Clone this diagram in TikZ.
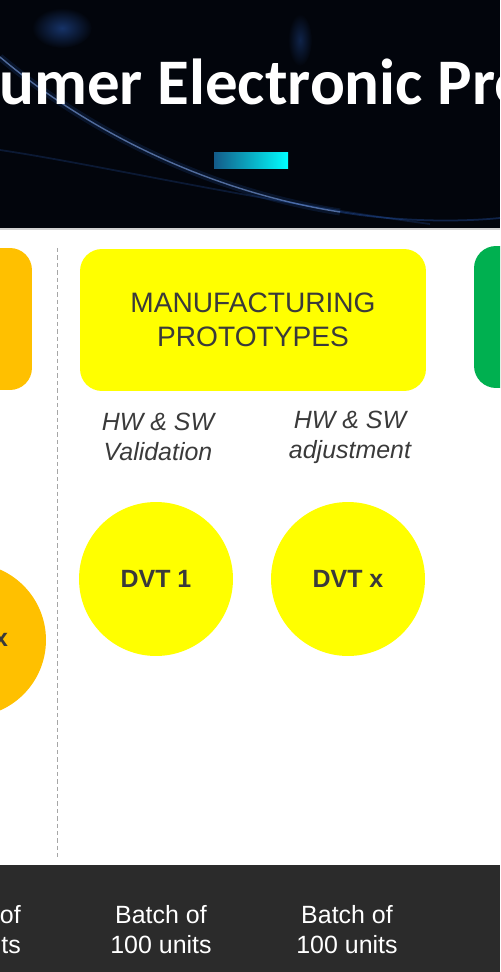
\documentclass[tikz,border=0pt]{standalone}
\usepackage{fontspec}
\setmainfont{Liberation Sans}
\newfontfamily\titlefont{Carlito}
\definecolor{banner}{HTML}{02050C}
\definecolor{streak}{HTML}{2F6BD8}
\definecolor{evtorange}{HTML}{FFC000}
\definecolor{dvtyellow}{HTML}{FFFF00}
\definecolor{pvtgreen}{HTML}{00B050}
\definecolor{textgray}{HTML}{3A3A3A}
\definecolor{barbg}{HTML}{2B2B2B}
\begin{document}
\begin{tikzpicture}[x=0.02cm,y=-0.02cm,
  phasebox/.style={rounded corners=0.44cm, minimum width=6.92cm, minimum height=2.84cm,
    inner sep=0pt, align=center, text=textgray, font=\fontsize{16}{19.3}\selectfont},
  stagedot/.style={circle, minimum size=3.08cm, inner sep=0pt, text=textgray,
    font=\fontsize{14.2}{17}\selectfont\bfseries},
  tasklabel/.style={align=center, text=textgray, font=\fontsize{14.2}{17}\selectfont\itshape},
  batchlabel/.style={align=center, text=white, font=\fontsize{14.2}{17}\selectfont}]
\useasboundingbox (0,0) rectangle (500,972);
\clip (0,0) rectangle (500,972);
% banner
\fill[banner] (0,0) rectangle (500,228);
\shade[inner color=streak!45!banner, outer color=banner] (62,28) ellipse (30 and 20);
\shade[inner color=streak!30!banner, outer color=banner] (300,40) ellipse (12 and 26);
\draw[streak, opacity=.15, line width=4pt] (0,57) .. controls (80,125) and (200,190) .. (340,212);
\draw[streak!60!white, opacity=.6, line width=.8pt] (0,57) .. controls (80,125) and (200,190) .. (340,212);
\draw[streak, opacity=.3, line width=1pt] (340,212) .. controls (400,222) and (460,222) .. (500,218);
\draw[streak, opacity=.2, line width=1pt] (0,150) .. controls (100,165) and (250,200) .. (430,224);
\node[text=white, anchor=base west, inner sep=0pt, font=\titlefont\bfseries\fontsize{37}{43}\selectfont]
  (title) at (-1,105) {umer Electronic Pro};
\shade[left color=streak!70!cyan!60!black, right color=cyan] (214,153) rectangle (288,169);
\draw[gray!35, line width=1.2pt] (0,229) -- (500,229);
% phases
\node[phasebox, fill=evtorange] (evt) at (-141,319) {};
\node[phasebox, fill=dvtyellow] (dvt) at (253,320) {MANUFACTURING\\PROTOTYPES};
\node[phasebox, fill=pvtgreen] (pvt) at (647,317) {};
\coordinate (sep top) at (57,248);
\coordinate (sep bot) at (57,857);
\draw[gray!70, dash pattern=on 2.5pt off 1.7pt] (sep top) -- (sep bot);
\node[tasklabel] (valid) at (158,437) {HW \& SW\\Validation};
\node[tasklabel] (adjust) at (350,437) {HW \& SW\\adjustment};
% builds
\node[stagedot, fill=evtorange] (evtx) at (-31,640) {};
\node[text=textgray, font=\fontsize{14.2}{17}\selectfont\bfseries] (evtxlabel) at (1,640) {x};
\node[stagedot, fill=dvtyellow] (dvt1) at (156,579) {DVT 1};
\node[stagedot, fill=dvtyellow] (dvtx) at (348,579) {DVT x};
% batches
\fill[barbg] (0,865) rectangle (500,972);
\node[batchlabel, align=right, anchor=east] (batch0) at (27,930) {of\\ts};
\node[batchlabel] (batch1) at (161,930) {Batch of\\100 units};
\node[batchlabel] (batch2) at (347,930) {Batch of\\100 units};
\end{tikzpicture}
\end{document}
